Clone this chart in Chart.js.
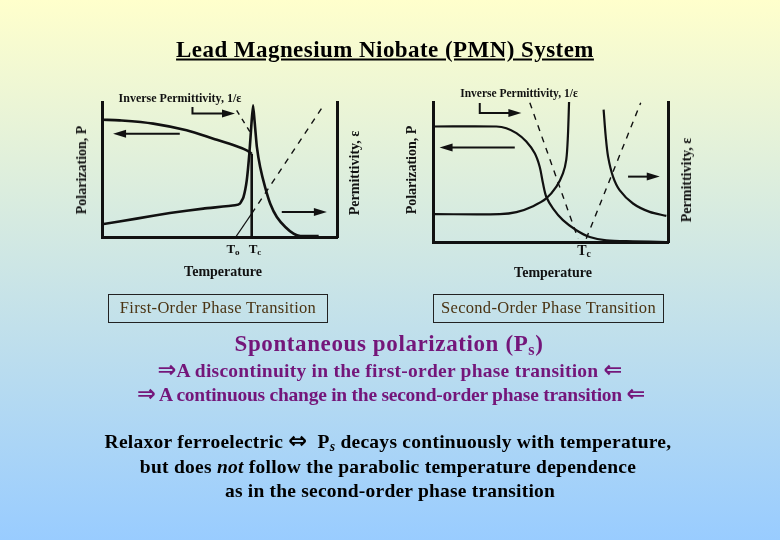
<!DOCTYPE html>
<html><head><meta charset="utf-8">
<script src="https://cdn.jsdelivr.net/npm/chart.js@4.4.1/dist/chart.umd.min.js"></script>
<style>
html,body{margin:0;padding:0;}
body{width:780px;height:540px;overflow:hidden;position:relative;
  background:linear-gradient(to bottom,#FFFFCC 0%,#99CCFF 100%);
  font-family:"Liberation Serif","Times New Roman","DejaVu Serif",serif;}
canvas{position:absolute;left:0;top:0;}
.t{position:absolute;white-space:nowrap;transform:translate(-50%,-50%);}
.lbl{font-weight:bold;color:#111;}
.rot{transform:translate(-50%,-50%) rotate(-90deg);}
.box{position:absolute;border:1px solid #222;color:#4a3312;font-size:16.5px;
  text-align:center;line-height:26px;letter-spacing:0.3px;}
.pur{color:#74167a;}
.ar{font-family:"DejaVu Sans",sans-serif;font-weight:bold;font-size:1.15em;line-height:0;}
sub{font-size:70%;vertical-align:-0.25em;line-height:0;}
</style></head>
<body>
<canvas id="c1" width="780" height="540"></canvas>
<canvas id="c2" width="780" height="540"></canvas>

<div class="t" data-w="418" style="left:385px;top:49px;font-size:23px;font-weight:bold;text-decoration:underline;line-height:23px;">Lead Magnesium Niobate (PMN) System</div>

<div class="t lbl" style="left:180px;top:98px;font-size:12px;">Inverse Permittivity, 1/ε</div>
<div class="t lbl rot" style="left:82px;top:170px;font-size:14px;">Polarization, P</div>
<div class="t lbl rot" style="left:355px;top:173px;font-size:14px;">Permittivity, ε</div>
<div class="t lbl" style="left:233px;top:249px;font-size:13px;">T<sub>o</sub></div>
<div class="t lbl" style="left:255px;top:249px;font-size:13px;">T<sub>c</sub></div>
<div class="t lbl" style="left:223px;top:272px;font-size:14px;">Temperature</div>

<div class="t lbl" style="left:519px;top:93px;font-size:11.5px;">Inverse Permittivity, 1/ε</div>
<div class="t lbl rot" style="left:412px;top:170px;font-size:14px;">Polarization, P</div>
<div class="t lbl rot" style="left:687px;top:180px;font-size:14px;">Permittivity, ε</div>
<div class="t lbl" style="left:584px;top:251px;font-size:14px;">T<sub>c</sub></div>
<div class="t lbl" style="left:553px;top:273px;font-size:14px;">Temperature</div>

<div class="box" style="left:108px;top:294px;width:218px;height:27px;">First-Order Phase Transition</div>
<div class="box" style="left:433px;top:294px;width:229px;height:27px;">Second-Order Phase Transition</div>

<div class="t pur" data-w="309" style="left:389px;top:344px;font-size:23px;font-weight:bold;line-height:22px;">Spontaneous polarization (P<sub>s</sub>)</div>
<div class="t pur" data-w="465" style="left:390px;top:370px;font-size:19.5px;font-weight:bold;line-height:19px;"><span class="ar">⇒</span>A discontinuity in the first-order phase transition <span class="ar">⇐</span></div>
<div class="t pur" data-w="508" style="left:391px;top:394px;font-size:19.5px;font-weight:bold;line-height:19px;"><span class="ar">⇒</span> A continuous change in the second-order phase transition <span class="ar">⇐</span></div>

<div class="t" data-w="567" style="left:388px;top:441px;font-size:19.5px;font-weight:bold;line-height:19px;">Relaxor ferroelectric <span class="ar">⇔</span>&nbsp; P<sub><i>s</i></sub> decays continuously with temperature,</div>
<div class="t" data-w="496" style="left:388px;top:466px;font-size:19.5px;font-weight:bold;line-height:19px;">but does <i>not</i> follow the parabolic temperature dependence</div>
<div class="t" data-w="330" style="left:390px;top:490px;font-size:19.5px;font-weight:bold;line-height:19px;">as in the second-order phase transition</div>

<script>
// ---------- First-order phase transition (left panel) ----------
const foPolT   = [0, 7.5, 21.8, 36, 47.4, 57.3, 61.6, 63.7];
const foPolV   = [86.9, 86.4, 84, 79, 72.8, 67.2, 64.2, 61.7];
const foDropT  = [63.7, 63.7];
const foDropV  = [61.7, 0];
const foPermT  = [0, 14.7, 28.9, 43.1, 56.6, 58.7, 60.2, 61.6, 62.7, 63.7, 64.3, 64.9, 65.9, 67.3, 69.4, 71.6, 74.4, 78, 81.5, 84.4, 92.2];
const foPermV  = [9.4, 13.6, 17.8, 21, 23.5, 24.7, 29.6, 42, 61.7, 86.4, 97.5, 86.4, 66.7, 51.9, 37, 24.7, 14.8, 7.4, 2.5, 0.7, 0.7];
const foInvLoT = [57.3, 63];
const foInvLoV = [93.8, 77.8];
const foInvExT = [56.9, 63.7];
const foInvExV = [0, 17.3];
const foInvHiT = [63.7, 94.3];
const foInvHiV = [17.3, 97.5];
// arrows (data units): [x0,y0, x1,y1, ...] head at last point
const foArrows = [[33.1,76.5, 4.7,76.5],[76.5,18.5, 95.7,18.5],[38.5,96.3, 38.5,91.4, 56.6,91.4]];

// ---------- Second-order phase transition (right panel) ----------
const soPolT  = [0, 27, 31.2, 35.5, 39.7, 43.3, 45.4, 46.8, 48.2, 51.1, 55.3, 61, 66.7, 73.8, 85.1, 99.3];
const soPolV  = [82.5, 82.5, 81.3, 77.8, 71.8, 63.4, 53.8, 41.9, 32.3, 23.9, 15.6, 8.4, 3.6, 1.2, 0.5, 0];
const soPermLT = [0, 28.4, 35.5, 42.6, 48.2, 52.5, 55.3, 56.7, 57.4, 57.9];
const soPermLV = [19.9, 19.9, 21.3, 25.6, 31.1, 39.5, 49, 58.6, 75.4, 100];
const soPermRT = [72.6, 73.5, 74.5, 76.6, 79.4, 85.1, 92.2, 99.3];
const soPermRV = [94.5, 75.4, 61, 46.7, 37.1, 27.5, 21.5, 18.7];
const soInvLT = [41.2, 61.7];
const soInvLV = [99.5, 2.4];
const soInvRT = [65.2, 88.4];
const soInvRV = [2.4, 99.5];
const soArrows = [[34.8,67.5, 2.8,67.5],[83,46.7, 96.5,46.7],[19.9,99.3, 19.9,92.1, 37.6,92.1]];

const INK = '#111';
const pts = (xs, ys) => xs.map((x, i) => ({x, y: ys[i]}));
const ds = (xs, ys, w, opt) => Object.assign({data: pts(xs, ys), borderColor: INK, borderWidth: w,
  pointRadius: 0, fill: false, tension: 0.3}, opt || {});

const arrowPlugin = {
  id: 'arrows',
  afterDatasetsDraw(chart, args, opts) {
    const {ctx, scales: {x, y}} = chart;
    ctx.save();
    ctx.strokeStyle = INK; ctx.fillStyle = INK; ctx.lineWidth = opts.width || 2;
    (opts.list || []).forEach(a => {
      const p = [];
      for (let i = 0; i < a.length; i += 2) p.push([x.getPixelForValue(a[i]), y.getPixelForValue(a[i+1])]);
      const n = p.length, [ex, ey] = p[n-1], [sx, sy] = p[n-2];
      const ang = Math.atan2(ey - sy, ex - sx), L = opts.head || 13, W = opts.headW || 4;
      ctx.beginPath(); ctx.moveTo(p[0][0], p[0][1]);
      for (let i = 1; i < n - 1; i++) ctx.lineTo(p[i][0], p[i][1]);
      ctx.lineTo(ex - Math.cos(ang) * L * 0.8, ey - Math.sin(ang) * L * 0.8);
      ctx.stroke();
      ctx.beginPath();
      ctx.moveTo(ex, ey);
      ctx.lineTo(ex - Math.cos(ang) * L - Math.sin(ang) * W, ey - Math.sin(ang) * L + Math.cos(ang) * W);
      ctx.lineTo(ex - Math.cos(ang) * L + Math.sin(ang) * W, ey - Math.sin(ang) * L - Math.cos(ang) * W);
      ctx.closePath(); ctx.fill();
    });
    ctx.restore();
  }
};

function axis(pos, show) {
  return {type: 'linear', position: pos, min: 0, max: 100, display: true,
    grid: {display: false, drawTicks: false}, ticks: {display: false},
    border: {display: show, color: INK, width: 3}};
}
function makeChart(id, datasets, pad, arrows, aw) {
  return new Chart(document.getElementById(id), {
    type: 'line',
    data: {datasets},
    options: {
      responsive: false, animation: false, events: [],
      layout: {padding: pad},
      plugins: {legend: {display: false}, tooltip: {enabled: false}, arrows: {list: arrows, width: aw, head: 13, headW: 4}},
      scales: {x: axis('bottom', true), y: axis('left', true), y2: axis('right', true)}
    },
    plugins: [arrowPlugin]
  });
}

makeChart('c1', [
  ds(foPolT, foPolV, 2.6),
  ds(foDropT, foDropV, 2.6, {tension: 0}),
  ds(foPermT, foPermV, 2.6, {tension: 0.15}),
  ds(foInvLoT, foInvLoV, 1.4, {tension: 0, borderDash: [5, 5]}),
  ds(foInvExT, foInvExV, 1.2, {tension: 0}),
  ds(foInvHiT, foInvHiV, 1.4, {tension: 0, borderDash: [6, 6]})
], {left: 102, top: 102, right: 780 - 337, bottom: 540 - 237}, foArrows, 2);

makeChart('c2', [
  ds(soPolT, soPolV, 2.2),
  ds(soPermLT, soPermLV, 2.2),
  ds(soPermRT, soPermRV, 2.2),
  ds(soInvLT, soInvLV, 1.4, {tension: 0, borderDash: [6, 6]}),
  ds(soInvRT, soInvRV, 1.4, {tension: 0, borderDash: [6, 6]})
], {left: 433, top: 102, right: 780 - 668, bottom: 540 - 242}, soArrows, 2);

// fit slide text lines to the widths they occupy on the original slide
document.querySelectorAll('[data-w]').forEach(el => {
  const target = +el.dataset.w;
  const w = el.getBoundingClientRect().width;
  const n = el.textContent.length;
  el.style.letterSpacing = ((target - w) / n).toFixed(2) + 'px';
});
</script>
</body></html>
